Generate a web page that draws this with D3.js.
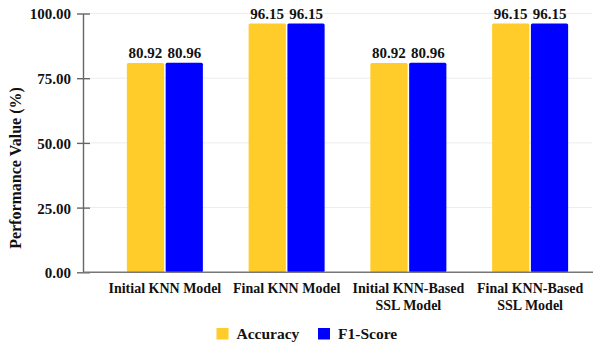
<!DOCTYPE html>
<html>
<head>
<meta charset="utf-8">
<script src="https://cdn.jsdelivr.net/npm/d3@7"></script>
</head>
<body style="margin:0;background:#fff">
<svg id="chart" width="593" height="347" font-family="Liberation Serif" font-weight="bold" style="display:block;font-family:'Liberation Serif';font-weight:bold"></svg>
<script>
// Model names (each entry split into display lines)
const categories = [
  ["Initial KNN Model"],
  ["Final KNN Model"],
  ["Initial KNN-Based", "SSL Model"],
  ["Final KNN-Based", "SSL Model"]
];
const seriesNames = ["Accuracy", "F1-Score"];
const seriesColors = ["#FFCC29", "#0000FF"];
const accuracy = [80.92, 96.15, 80.92, 96.15];
const f1Score = [80.96, 96.15, 80.96, 96.15];
const yTicks = [0, 25, 50, 75, 100];
const yTitle = "Performance Value (%)";

const seriesValues = [accuracy, f1Score];
const svg = d3.select("#chart");

// shared text styling: bold serif everywhere
function styleText(sel, size) {
  return sel.attr("font-family", "Liberation Serif")
    .style("font-family", "'Liberation Serif'")
    .attr("font-weight", "bold").style("font-weight", "bold")
    .attr("font-size", size).style("font-size", size + "px")
    .attr("fill", "#111");
}

const axisX = 83, plotRight = 592, plotTop = 13.5, plotBottom = 272.3;

const y = d3.scaleLinear().domain([0, 100]).range([plotBottom, plotTop]);
const catKeys = categories.map(c => c.join(" "));
const x0 = d3.scaleBand().domain(catKeys).range([104, 591]);
const groupWidth = 76;
const x1 = d3.scaleBand().domain(seriesNames).range([0, groupWidth]).paddingInner(0.04);
const groupStart = k => x0(k) + (x0.bandwidth() - groupWidth) / 2;

// horizontal gridlines
svg.append("g").selectAll("line").data(yTicks.filter(t => t > 0)).join("line")
  .attr("x1", axisX + 7).attr("x2", plotRight)
  .attr("y1", d => y(d)).attr("y2", d => y(d))
  .attr("stroke", "#ececec").attr("stroke-width", 1);

// bars with value labels
const groups = svg.append("g").selectAll("g").data(catKeys).join("g")
  .attr("transform", k => `translate(${groupStart(k)},0)`);

groups.each(function(k, i) {
  const g = d3.select(this);
  seriesNames.forEach((s, si) => {
    const v = seriesValues[si][i];
    g.append("rect")
      .attr("x", x1(s)).attr("y", y(v))
      .attr("width", x1.bandwidth()).attr("height", y(0) - y(v))
      .attr("rx", 1.5)
      .attr("fill", seriesColors[si]);
    styleText(g.append("text"), 15)
      .attr("x", x1(s) + x1.bandwidth() / 2).attr("y", y(v) - 4.5)
      .attr("text-anchor", "middle")
      .text(v.toFixed(2));
  });
});

// y axis
const yAxis = d3.axisLeft(y).tickValues(yTicks).tickFormat(d3.format(".2f"))
  .tickSizeInner(6).tickSizeOuter(0).tickPadding(6);
const gy = svg.append("g").attr("transform", `translate(${axisX},0)`).call(yAxis);
gy.attr("font-family", "Liberation Serif").attr("font-size", 15);
gy.select(".domain").attr("stroke", "#666").attr("stroke-width", 1.4);
gy.selectAll(".tick line").attr("stroke", "#666").attr("stroke-width", 1.4).attr("x2", 7).attr("x1", -6);
styleText(gy.selectAll(".tick text"), 15).attr("dy", "0.36em").attr("x", -12);

// x axis baseline
svg.append("line").attr("x1", axisX).attr("x2", 593)
  .attr("y1", y(0)).attr("y2", y(0)).attr("stroke", "#777").attr("stroke-width", 1.4);

// x category labels
const xl = styleText(svg.append("g").selectAll("text").data(categories).join("text"), 14)
  .attr("x", (d, i) => x0(catKeys[i]) + x0.bandwidth() / 2)
  .attr("y", 293).attr("text-anchor", "middle");
xl.each(function(lines) {
  const t = d3.select(this);
  lines.forEach((ln, li) => {
    t.append("tspan").attr("x", t.attr("x")).attr("dy", li === 0 ? 0 : 17).text(ln);
  });
});

// y axis title
styleText(svg.append("text"), 16).attr("transform", "translate(20.5,168) rotate(-90)")
  .attr("text-anchor", "middle").text(yTitle);

// legend
const legendX = [216.5, 318];
const lg = svg.append("g").selectAll("g").data(seriesNames).join("g")
  .attr("transform", (d, i) => `translate(${legendX[i]},328)`);
lg.append("rect").attr("width", 12).attr("height", 11.5).attr("fill", (d, i) => seriesColors[i]);
styleText(lg.append("text"), 15.5).attr("x", 20).attr("y", 10.5).text(d => d);
</script>
</body>
</html>
